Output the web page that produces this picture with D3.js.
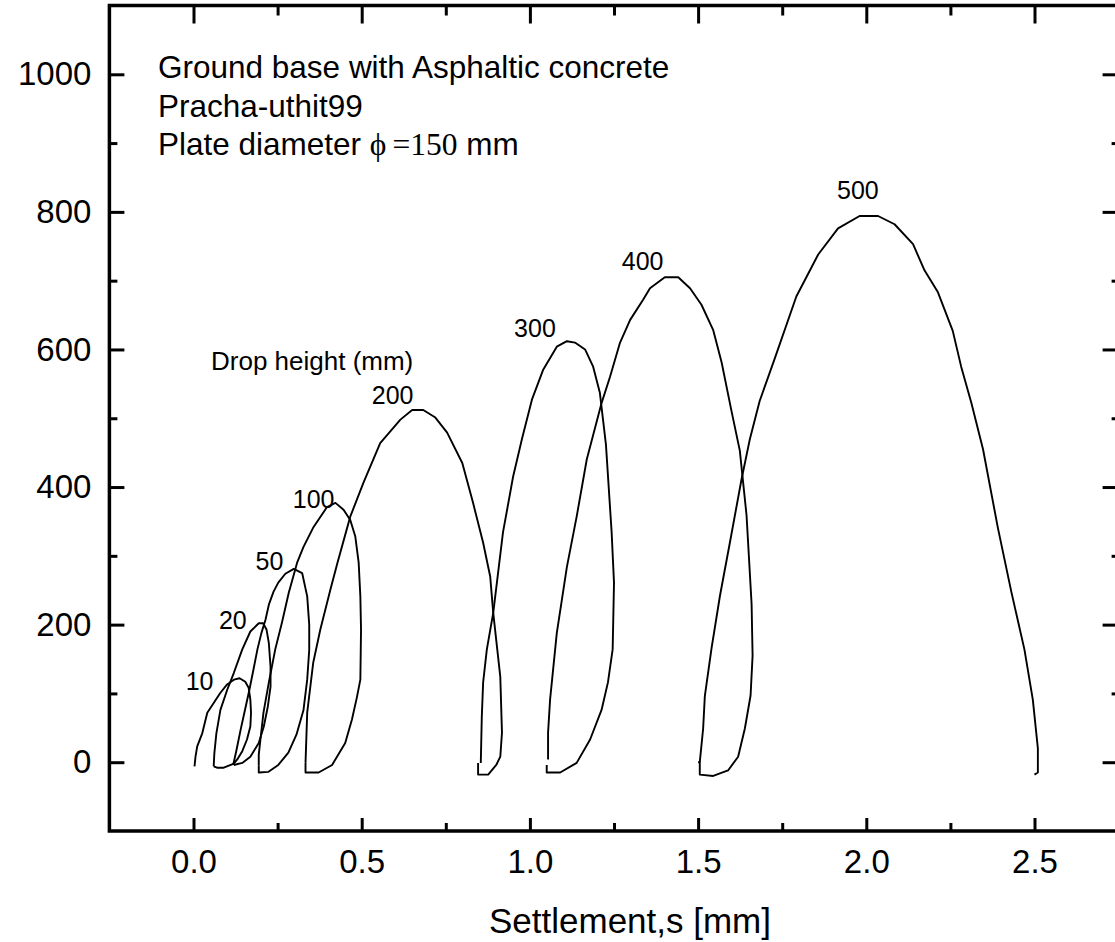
<!DOCTYPE html>
<html>
<head>
<meta charset="utf-8">
<script src="https://cdn.jsdelivr.net/npm/d3@7"></script>
<style>
  body { margin: 0; background: #fff; }
  svg { display: block; }
  text { font-family: "Liberation Sans", Arial, Helvetica, sans-serif; fill: #000; }
</style>
</head>
<body>
<svg id="chart" width="1115" height="942"></svg>
<script>
// Load–settlement loops of the plate test, one per drop height.
// Each point is [settlement s (mm), load].
const dropHeights = ["10", "20", "50", "100", "200", "300", "400", "500"];

const loop10 = [[0.003,-6],[0.006,8],[0.011,23],[0.026,42],[0.041,72],[0.060,86],[0.080,101],[0.100,113],[0.120,120],[0.137,122],[0.154,117],[0.164,108],[0.169,91],[0.171,72],[0.169,52],[0.159,33],[0.145,16],[0.130,4],[0.120,-2],[0.090,-8],[0.070,-8],[0.060,-6]];
const loop20 = [[0.060,-6],[0.062,13],[0.068,42],[0.080,76],[0.100,105],[0.120,130],[0.145,164],[0.169,190],[0.194,202],[0.207,202],[0.217,193],[0.224,173],[0.229,139],[0.229,110],[0.221,81],[0.209,52],[0.194,28],[0.169,8],[0.145,-1],[0.120,-4]];
const loop50 = [[0.118,-4],[0.128,18],[0.140,47],[0.153,76],[0.166,105],[0.178,134],[0.190,164],[0.202,188],[0.214,207],[0.224,229],[0.238,248],[0.252,261],[0.273,274],[0.298,281],[0.323,275],[0.338,241],[0.344,200],[0.344,163],[0.338,120],[0.327,76],[0.306,40],[0.282,14],[0.252,-4],[0.223,-14],[0.194,-15],[0.194,-5]];
const loop100 = [[0.194,-5],[0.194,11],[0.199,33],[0.208,72],[0.224,116],[0.243,164],[0.263,203],[0.283,246],[0.308,290],[0.327,313],[0.357,342],[0.397,371],[0.422,377],[0.446,367],[0.466,352],[0.481,328],[0.491,290],[0.496,241],[0.498,193],[0.496,120],[0.486,95],[0.471,62],[0.451,28],[0.412,-4],[0.372,-15],[0.333,-15],[0.333,-1]];
const loop200 = [[0.333,-1],[0.338,72],[0.356,145],[0.377,193],[0.407,251],[0.428,290],[0.466,357],[0.505,406],[0.555,464],[0.615,498],[0.650,512],[0.683,512],[0.719,501],[0.754,479],[0.799,435],[0.831,377],[0.861,319],[0.882,270],[0.891,217],[0.912,124],[0.917,43],[0.912,8],[0.900,-4],[0.876,-18],[0.846,-18],[0.846,-1]];
const loop300 = [[0.854,-1],[0.857,66],[0.861,116],[0.872,164],[0.891,217],[0.920,334],[0.950,415],[0.976,469],[1.006,527],[1.039,570],[1.080,604],[1.110,612],[1.134,610],[1.164,600],[1.188,575],[1.208,537],[1.226,462],[1.243,334],[1.250,261],[1.246,164],[1.232,116],[1.213,76],[1.179,33],[1.139,-1],[1.090,-15],[1.050,-15],[1.050,-4]];
const loop400 = [[1.054,4],[1.054,43],[1.060,91],[1.080,188],[1.110,284],[1.139,357],[1.169,440],[1.213,522],[1.238,560],[1.268,610],[1.298,643],[1.336,672],[1.357,689],[1.401,705],[1.441,705],[1.476,689],[1.510,665],[1.545,628],[1.570,581],[1.599,511],[1.624,453],[1.644,359],[1.659,230],[1.662,155],[1.656,97],[1.639,49],[1.619,8],[1.589,-12],[1.545,-20],[1.505,-18],[1.505,0],[1.500,0]];
const loop500 = [[1.505,0],[1.515,49],[1.520,96],[1.540,166],[1.565,242],[1.594,318],[1.629,411],[1.654,470],[1.683,525],[1.728,587],[1.792,677],[1.857,738],[1.916,776],[1.980,794],[2.035,794],[2.084,782],[2.139,753],[2.173,715],[2.213,683],[2.257,627],[2.282,575],[2.312,523],[2.347,455],[2.391,341],[2.431,248],[2.470,164],[2.495,91],[2.510,20],[2.510,-15],[2.500,-18]];

const loops = [loop10, loop20, loop50, loop100, loop200, loop300, loop400, loop500];

// Where each drop-height label sits, in [s, load] units.
const labelAnchors = [[0.018,105],[0.117,193],[0.226,280],[0.357,369],[0.592,520],[1.015,618],[1.335,715],[1.975,818]];

const xDomain = [-0.25, 2.75];
const yDomain = [-100, 1100];
const xMajorTicks = [0, 0.5, 1.0, 1.5, 2.0, 2.5];
const xMinorTicks = [0.25, 0.75, 1.25, 1.75, 2.25];
const yMajorTicks = [0, 200, 400, 600, 800, 1000];
const yMinorTicks = [100, 300, 500, 700, 900];

const noteLines = ["Ground base with Asphaltic concrete", "Pracha-uthit99"];
const plateLabel = "Plate diameter";
const plateSymbol = "\u03D5";
const plateValue = "=150";
const plateUnit = "mm";
const groupTitle = "Drop height (mm)";
const xTitle = "Settlement,s [mm]";

// ---- drawing ----
const svg = d3.select("#chart");

const x = d3.scaleLinear().domain(xDomain).range([109.4, 1118.6]);
const y = d3.scaleLinear().domain(yDomain).range([831, 5.5]);

const x0 = x(xDomain[0]), x1 = x(xDomain[1]);
const y0 = y(yDomain[0]), y1 = y(yDomain[1]);

function styleAxis(g) {
  g.select(".domain").remove();
  g.selectAll(".tick line").attr("stroke", "#000").attr("stroke-width", 3);
  g.selectAll(".tick text")
    .style("font-family", '"Liberation Sans", Arial, sans-serif')
    .style("font-size", "33px")
    .attr("fill", "#000");
}

// bottom axis with labels
svg.append("g")
  .attr("transform", `translate(0,${y0})`)
  .call(d3.axisBottom(x).tickValues(xMajorTicks).tickSize(-13).tickSizeOuter(0)
    .tickPadding(19).tickFormat(d3.format(".1f")))
  .call(styleAxis);
svg.append("g")
  .attr("transform", `translate(0,${y0})`)
  .call(d3.axisBottom(x).tickValues(xMinorTicks).tickSize(-8).tickSizeOuter(0).tickFormat(""))
  .call(styleAxis);

// top axis, ticks only
svg.append("g")
  .attr("transform", `translate(0,${y1})`)
  .call(d3.axisTop(x).tickValues(xMajorTicks).tickSize(-18).tickSizeOuter(0).tickFormat(""))
  .call(styleAxis);
svg.append("g")
  .attr("transform", `translate(0,${y1})`)
  .call(d3.axisTop(x).tickValues(xMinorTicks).tickSize(-10).tickSizeOuter(0).tickFormat(""))
  .call(styleAxis);

// left axis with labels
svg.append("g")
  .attr("transform", `translate(${x0},0)`)
  .call(d3.axisLeft(y).tickValues(yMajorTicks).tickSize(-15).tickSizeOuter(0)
    .tickPadding(18).tickFormat(d3.format("d")))
  .call(styleAxis);
svg.append("g")
  .attr("transform", `translate(${x0},0)`)
  .call(d3.axisLeft(y).tickValues(yMinorTicks).tickSize(-8).tickSizeOuter(0).tickFormat(""))
  .call(styleAxis);

// right axis, ticks only
svg.append("g")
  .attr("transform", `translate(${x1},0)`)
  .call(d3.axisRight(y).tickValues(yMajorTicks).tickSize(-16).tickSizeOuter(0).tickFormat(""))
  .call(styleAxis);
svg.append("g")
  .attr("transform", `translate(${x1},0)`)
  .call(d3.axisRight(y).tickValues(yMinorTicks).tickSize(-7).tickSizeOuter(0).tickFormat(""))
  .call(styleAxis);

// frame
svg.append("rect")
  .attr("x", x0).attr("y", y1)
  .attr("width", x1 - x0).attr("height", y0 - y1)
  .attr("fill", "none").attr("stroke", "#000").attr("stroke-width", 3.5);

// loops
const line = d3.line().x(d => x(d[0])).y(d => y(d[1]));
svg.append("g").selectAll("path")
  .data(loops)
  .join("path")
  .attr("d", line)
  .attr("fill", "none")
  .attr("stroke", "#000")
  .attr("stroke-width", 1.9)
  .attr("stroke-linejoin", "round");

// drop height labels
svg.append("g").selectAll("text")
  .data(dropHeights)
  .join("text")
  .attr("x", (d, i) => x(labelAnchors[i][0]))
  .attr("y", (d, i) => y(labelAnchors[i][1]))
  .attr("text-anchor", "middle")
  .style("font-size", "25px")
  .text(d => d);

svg.append("text")
  .attr("x", 211).attr("y", 370)
  .style("font-size", "26px")
  .text(groupTitle);

// test description
const notes = svg.append("g").style("font-size", "31.5px");
noteLines.forEach((t, i) => {
  notes.append("text").attr("x", 158).attr("y", 78 + i * 38.5).text(t);
});
const serif = '"Liberation Serif", "Times New Roman", "DejaVu Serif", serif';
const plate = notes.append("text").attr("x", 158).attr("y", 78 + 2 * 38.5);
plate.append("tspan").text(plateLabel + " ");
plate.append("tspan").style("font-family", serif).text(plateSymbol);
plate.append("tspan").attr("dx", 6).style("font-family", serif).text(plateValue);
plate.append("tspan").text(" " + plateUnit);

// x axis title
svg.append("text")
  .attr("x", 630).attr("y", 933)
  .attr("text-anchor", "middle")
  .style("font-size", "35px")
  .text(xTitle);
</script>
</body>
</html>
